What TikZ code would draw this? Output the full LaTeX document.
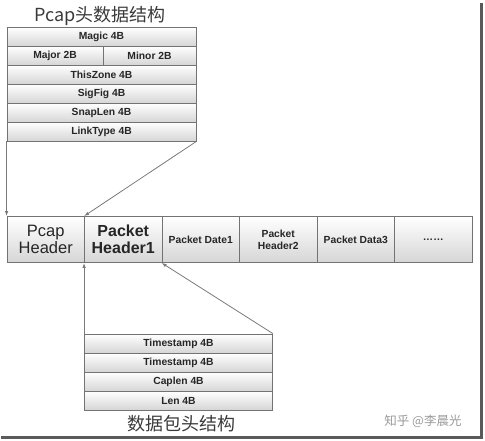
\documentclass[tikz,border=0pt]{standalone}
\usepackage{fontspec}
\setmainfont{Liberation Sans}
\newfontfamily\cjk{Noto Sans CJK SC}
\definecolor{FieldFill}{HTML}{D6D6D6}
\definecolor{FieldBorder}{HTML}{737373}
\definecolor{ArrowGray}{HTML}{7A7A7A}
\definecolor{TitleGray}{HTML}{3A3A3A}
\definecolor{MarkGray}{HTML}{9A9A9A}
\definecolor{ShadowGray}{HTML}{5A5A5A}
\usetikzlibrary{arrows.meta}

\begin{document}
\begin{tikzpicture}[
  x=1pt, y=-1pt,
  every node/.style={font=\bfseries\fontsize{10.3}{12}\selectfont, text=black!85},
  field/.style={draw=FieldBorder, line width=0.8pt, top color=white,
                bottom color=FieldFill, minimum height=19pt, inner sep=0pt},
  cell/.style={field, minimum width=77.5pt, minimum height=46pt,
               align=center},
  bigtext/.style={font=\fontsize{16.5}{17.5}\selectfont},
  arr/.style={-{Latex[length=5pt,width=3.5pt]}, draw=ArrowGray,
              line width=0.8pt},
  title/.style={font=\cjk\fontsize{18}{20}\selectfont, text=TitleGray},
  wmtext/.style={font=\cjk\fontsize{12.5}{14}\selectfont, text=MarkGray},
  shadowline/.style={draw=ShadowGray, line width=2.5pt}
]
\useasboundingbox (0,0) rectangle (485,440);

% pcap file header
\node[title] (pcaptitle) at (100,16) {Pcap头数据结构};
\node[field, minimum width=189pt] (magic)    at (101.5,36.5)  {Magic 4B};
\node[field, minimum width=96pt]  (major)    at (55,55.5)     {Major 2B};
\node[field, minimum width=93pt]  (minor)    at (149.5,55.5)  {Minor 2B};
\node[field, minimum width=189pt] (thiszone) at (101.5,74.5)  {ThisZone 4B};
\node[field, minimum width=189pt] (sigfig)   at (101.5,93.5)  {SigFig 4B};
\node[field, minimum width=189pt] (snaplen)  at (101.5,112.5) {SnapLen 4B};
\node[field, minimum width=189pt] (linktype) at (101.5,131.5) {LinkType 4B};

% file layout
\node[cell, bigtext] (pcap)     at (45.75,239.5)  {Pcap\\Header};
\node[cell, bigtext, font=\bfseries\fontsize{16}{17.5}\selectfont]
                     (pkthdr1)  at (123.25,239.5) {Packet\\Header1};
\node[cell]          (pktdata1) at (200.75,239.5) {Packet Date1};
\node[cell]          (pkthdr2)  at (278.25,239.5) {Packet\\Header2};
\node[cell]          (pktdata3) at (355.75,239.5) {Packet Data3};
\node[cell]          (more)     at (433.25,239.5) {……};

% packet header
\node[field, minimum width=188pt] (ts1)    at (178.5,343.5) {Timestamp 4B};
\node[field, minimum width=188pt] (ts2)    at (178.5,362.5) {Timestamp 4B};
\node[field, minimum width=188pt] (caplen) at (178.5,381.5) {Caplen 4B};
\node[field, minimum width=188pt] (len)    at (178.5,400.5) {Len 4B};
\node[title] (pkttitle) at (181,424) {数据包头结构};

\draw[arr] (linktype.south west) -- (pcap.north west);
\draw[arr] (linktype.south east) -- (pkthdr1.north west);
\draw[arr] (ts1.north west) -- (pkthdr1.south west);
\draw[arr] (ts1.north east) -- (pktdata1.south west);

\node[wmtext] (watermark) at (423,421) {知乎 @李晨光};
\draw[shadowline] (481.5,3) -- (481.5,437.5) -- (1,437.5);
\end{tikzpicture}
\end{document}
